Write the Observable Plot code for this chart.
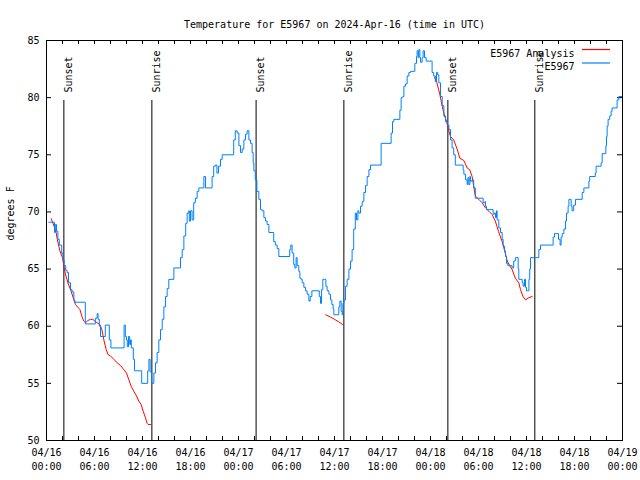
<!DOCTYPE html>
<html><head><meta charset="utf-8">
<script src="https://cdn.jsdelivr.net/npm/d3@7"></script>
<script src="https://cdn.jsdelivr.net/npm/@observablehq/plot@0.6"></script>
<style>html,body{margin:0;padding:0;background:#fff}</style>
</head><body><div id="chart"></div>
<script>
// ---------- data (hours since 2024-04-16 00:00 UTC) ----------
const titleText = "Temperature for E5967 on 2024-Apr-16 (time in UTC)";
const yLabelText = "degrees F";
const seriesNames = ["E5967 Analysis", "E5967"];
const seriesColors = ["#ff0000", "#0080ff"];
const yTicks = [50, 55, 60, 65, 70, 75, 80, 85];
const xMajorHours = [0, 6, 12, 18, 24, 30, 36, 42, 48, 54, 60, 66, 72];
const xMinorHours = [0,2,4,6,8,10,12,14,16,18,20,22,24,26,28,30,32,34,36,38,40,42,44,46,48,50,52,54,56,58,60,62,64,66,68,70,72];
const eventHours = [2.17, 13.17, 26.2, 37.17, 50.17, 61.04];
const eventLabels = ["Sunset", "Sunrise", "Sunset", "Sunrise", "Sunset", "Sunrise"];

const obsHours = [
0.29,1.0,1.1,1.25,1.42,1.6,1.9,2.05,2.2,2.4,
2.58,2.75,3.0,3.2,3.42,3.54,4.85,6.1,6.33,6.45,
6.6,6.75,7.35,7.85,8.05,9.7,9.85,10.0,10.1,10.25,
10.4,10.5,10.6,10.85,11.0,11.9,12.65,12.8,12.95,13.15,
13.42,13.62,13.83,14.04,14.25,14.46,14.67,14.88,15.08,15.29,
15.92,16.75,16.96,17.17,17.4,17.58,17.79,17.85,18.0,18.2,
18.4,18.6,18.83,19.04,19.67,19.88,20.7,20.9,21.1,21.3,
21.5,21.75,21.96,23.4,23.6,23.83,24.05,24.25,24.46,24.67,
24.88,25.08,25.3,25.5,25.7,25.83,25.92,26.1,26.3,26.54,
26.75,26.96,27.17,27.38,27.58,27.8,28.4,28.6,28.83,29.04,
30.4,30.54,30.7,30.9,31.04,31.2,31.33,31.54,31.67,31.83,
31.96,32.17,32.38,32.58,32.8,32.96,33.17,34.1,34.25,34.38,
34.54,34.75,34.92,35.08,35.3,35.5,35.67,35.83,35.92,36.54,
36.67,36.83,36.96,37.05,37.17,37.38,37.58,37.8,38.0,38.2,
38.4,38.6,38.75,38.92,39.04,39.25,39.46,39.67,39.88,40.08,
40.3,40.5,41.83,43.08,43.25,43.42,44.17,44.33,44.54,44.67,
44.88,45.08,45.3,45.5,46.04,46.25,46.33,46.46,46.54,46.67,
46.75,46.96,47.08,47.25,47.46,48.2,48.4,48.6,48.75,48.9,
49.04,49.25,49.46,49.67,49.88,50.08,50.3,50.5,50.7,50.9,
51.1,52.08,52.17,52.38,52.58,52.67,52.79,52.92,53.0,53.2,
53.4,53.6,54.58,54.79,54.88,55.0,55.83,56.0,56.13,56.25,
56.33,56.54,56.75,56.96,57.08,57.25,57.38,57.5,57.67,58.2,
58.4,58.6,58.96,59.04,59.46,59.58,59.75,59.88,60.0,60.3,
60.4,60.5,61.54,61.75,63.33,63.5,64.0,64.2,64.33,64.46,
64.67,64.88,65.0,65.2,65.3,65.58,65.7,65.9,66.13,66.96,
67.17,67.8,67.9,68.6,68.7,69.33,69.46,69.92,70.0,70.08,
70.2,70.4,70.58,70.7,71.33,71.54,72.0];
const obsTemps = [
69.1,68.2,68.9,68.3,67.6,67.1,66.4,65.8,65.3,64.9,
64.7,63.8,63.2,63.0,62.3,62.1,60.2,60.7,61.1,60.6,
60.0,59.1,60.1,58.8,58.1,60.1,59.1,58.8,58.2,59.1,
58.4,58.8,58.1,57.1,56.1,55.0,56.1,57.1,56.0,55.0,
55.9,56.8,57.7,58.8,59.7,60.6,61.7,62.6,63.3,64.1,
65.1,66.0,66.7,67.9,69.0,69.9,70.1,69.2,70.1,69.3,
70.8,71.2,71.8,72.1,73.1,72.1,73.1,74.0,74.1,73.4,
74.0,74.6,75.0,76.3,77.1,76.9,75.8,75.2,75.5,76.3,
76.8,77.1,76.3,76.0,75.2,74.3,73.6,72.8,71.8,71.1,
70.2,70.1,69.5,69.2,68.9,68.2,67.4,67.1,66.8,66.1,
66.7,67.1,66.4,65.4,65.1,66.0,65.3,64.8,64.2,64.1,
63.8,63.4,63.1,62.8,62.2,62.6,63.1,62.6,62.0,63.2,
64.1,64.1,63.5,63.1,62.8,62.3,61.9,61.5,61.0,61.7,
62.2,61.3,61.0,62.0,62.3,63.5,64.1,65.0,65.7,66.7,
68.5,69.9,69.3,70.1,69.9,70.5,70.9,71.7,72.3,73.1,
73.7,74.1,76.0,76.9,77.9,78.1,78.9,80.0,80.1,81.0,
81.2,81.9,82.2,82.3,83.0,83.6,84.1,83.5,84.2,83.5,
83.1,83.5,84.1,83.5,83.2,82.2,81.9,81.4,82.2,82.0,
81.3,80.1,79.3,78.4,77.9,77.6,77.2,76.3,75.6,75.0,
74.1,73.7,73.3,72.8,72.4,73.0,72.4,73.1,72.7,72.8,
72.1,71.2,70.8,70.9,70.5,70.2,69.8,69.9,69.5,70.1,
69.3,68.6,68.2,67.6,67.0,66.6,66.1,65.5,65.3,65.1,
65.7,66.0,65.0,64.1,63.8,63.5,64.1,63.4,63.1,64.1,
65.0,66.0,66.7,67.1,67.8,68.1,67.6,67.1,67.8,68.1,
68.5,69.2,69.9,70.5,71.1,70.5,70.1,70.6,71.1,71.7,
72.1,72.7,73.1,73.4,74.0,74.3,75.1,75.8,76.6,77.5,
78.1,78.4,78.8,79.1,79.8,80.1,80.1];

const anaHours1 = [0.6,0.95,1.2,1.35,1.67,2.0,2.17,2.33,2.67,3.08,3.42,3.62,4.17,4.5,4.67,4.88,5.17,5.5,5.79,6.04,6.33,6.67,6.92,7.17,7.46,7.71,8.0,8.42,8.83,9.25,9.67,10.0,10.3,10.58,10.92,11.25,11.54,11.83,12.08,12.38,12.58,12.7,13.0];
const anaTemps1 = [69.4,68.75,68.2,67.6,66.6,66.0,65.25,64.67,63.8,63.06,62.3,61.9,61.46,60.7,60.44,60.3,60.5,60.6,60.6,60.44,60.3,60.15,59.7,58.8,57.96,57.5,57.4,57.1,56.8,56.56,56.2,55.9,55.3,54.75,54.3,53.9,53.44,53.15,52.57,51.98,51.5,51.4,51.4];
const anaHours2 = [34.9,35.5,36.0,36.5,37.0];
const anaTemps2 = [61.0,60.8,60.6,60.4,60.15];
const anaHours3 = [48.5,48.8,49.17,49.46,49.75,50.08,50.3,50.5,50.9,51.33,51.67,52.17,52.58,52.9,53.2,53.4,53.6,54.04,54.46,54.88,55.3,55.7,56.1,56.3,56.5,56.75,56.96,57.17,57.38,57.6,57.9,58.2,58.6,59.04,59.25,59.58,59.88,60.3,60.7];
const anaTemps3 = [81.8,81.3,80.27,79.25,78.4,77.8,77.06,76.6,76.3,75.5,74.7,74.5,73.85,73.7,73.1,72.25,71.4,71.1,70.8,70.35,70.06,69.77,69.2,68.75,68.3,67.8,67.4,66.85,66.3,65.7,65.3,64.96,64.2,63.8,63.2,62.57,62.3,62.5,62.6];

// ---------- build tables ----------
const startUTC = Date.UTC(2024, 3, 16);
const toDate = h => new Date(startUTC + h * 3600e3);
const obs = obsHours.map((h, i) => ({time: toDate(h), temp: obsTemps[i]}));
const ana = [[anaHours1, anaTemps1], [anaHours2, anaTemps2], [anaHours3, anaTemps3]]
  .flatMap(([hs, ts], s) => hs.map((h, i) => ({time: toDate(h), temp: ts[i], seg: s})));
const events = eventHours.map((h, i) => ({time: toDate(h), label: eventLabels[i]}));
const xMajor = xMajorHours.map(toDate);
const xMinor = xMinorHours.map(toDate);

const W = 640, H = 480, mL = 46, mR = 18, mT = 40, mB = 40;
const innerW = W - mL - mR, innerH = H - mT - mB;
const p2 = n => String(n).padStart(2, "0");
const fmtDate = d => `${p2(d.getUTCMonth() + 1)}/${p2(d.getUTCDate())}`;
const fmtTime = d => `${p2(d.getUTCHours())}:${p2(d.getUTCMinutes())}`;
const font = "'DejaVu Sans Mono', monospace";

const chart = Plot.plot({
  width: W, height: H,
  marginLeft: mL, marginRight: mR, marginTop: mT, marginBottom: mB,
  style: {fontFamily: font, fontSize: "10px", background: "#fff", color: "#000", overflow: "visible"},
  x: {type: "utc", domain: [toDate(0), toDate(72)], label: null},
  y: {domain: [50, 85], label: null},
  marks: [
    Plot.axisX({ticks: xMajor, tickSize: 0, tickPadding: 8, tickFormat: fmtDate, label: null, fontSize: 10}),
    Plot.axisX({ticks: xMajor, tickSize: 0, tickPadding: 22, tickFormat: fmtTime, label: null, fontSize: 10}),
    Plot.axisY({ticks: yTicks, tickSize: 0, tickPadding: 7, tickFormat: d => String(d), label: null, fontSize: 10}),
    // inward ticks (mirrored on both sides)
    Plot.ruleX(xMinor, {x: d => d, insetTop: innerH - 4, stroke: "#000"}),
    Plot.ruleX(xMinor, {x: d => d, insetBottom: innerH - 4, stroke: "#000"}),
    Plot.ruleY(yTicks, {y: d => d, insetRight: innerW - 5, stroke: "#000"}),
    Plot.ruleY(yTicks, {y: d => d, insetLeft: innerW - 5, stroke: "#000"}),
    // sunrise / sunset
    Plot.ruleX(events, {x: "time", insetTop: 60, stroke: "#000"}),
    Plot.text(events, {x: "time", text: "label", rotate: -90, textAnchor: "start", frameAnchor: "top", dy: 52, dx: 1, fill: "#000", fontSize: 10}),
    // series
    Plot.line(ana, {x: "time", y: "temp", z: "seg", stroke: seriesColors[0], strokeWidth: 1}),
    Plot.line(obs, {x: "time", y: "temp", stroke: seriesColors[1], strokeWidth: 1, curve: "step-after"}),
    Plot.frame({stroke: "#000"}),
    // legend
    Plot.text([seriesNames[0]], {text: d => d, frameAnchor: "top-right", textAnchor: "end", dx: -48, dy: 9, fill: "#000", fontSize: 10}),
    Plot.text([seriesNames[1]], {text: d => d, frameAnchor: "top-right", textAnchor: "end", dx: -48, dy: 22.5, fill: "#000", fontSize: 10}),
    Plot.ruleY([85], {y: d => d, dy: 9, insetLeft: innerW - 40, insetRight: 12, stroke: seriesColors[0], strokeWidth: 1.2}),
    Plot.ruleY([85], {y: d => d, dy: 22.5, insetLeft: innerW - 40, insetRight: 12, stroke: seriesColors[1], strokeWidth: 1.2}),
    // title and y label
    Plot.text([titleText], {text: d => d, frameAnchor: "top", dy: -20, fill: "#000", fontSize: 10}),
    Plot.text([yLabelText], {text: d => d, frameAnchor: "left", rotate: -90, dx: -36, fill: "#000", fontSize: 10})
  ]
});
document.getElementById("chart").appendChild(chart);
</script>
</body></html>
